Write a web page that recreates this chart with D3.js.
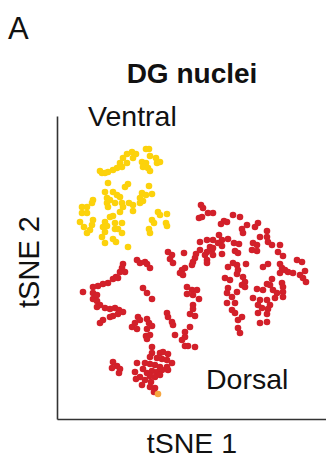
<!DOCTYPE html>
<html>
<head>
<meta charset="utf-8">
<script src="https://cdn.jsdelivr.net/npm/d3@7"></script>
<style>
  body { margin: 0; background: #fff; }
  text { font-family: "Liberation Sans", Arial, Helvetica, sans-serif; fill: #111; }
</style>
</head>
<body>
<div id="chart"></div>
<script>
// tSNE coordinates (figure units, y grows downward)
var ventral = [
  [146,149],[149,149],[132,152],[136,154],[127,154],[123,158],[133,158],[150,156],[156,158],[160,162],
  [157,163],[142,162],[146,163],[143,167],[148,168],[150,171],[120,163],[122,167],[117,168],[113,170],
  [108,172],[100,171],[102,173],[105,173],[127,163],[108,183],[128,184],[125,187],[149,186],[105,192],
  [113,192],[117,195],[120,197],[107,198],[110,200],[142,193],[146,195],[152,194],[140,198],[93,200],
  [92,203],[107,203],[115,203],[122,203],[129,203],[133,205],[140,203],[143,201],[82,207],[87,207],
  [108,207],[123,207],[133,211],[82,213],[87,213],[120,212],[158,212],[160,215],[167,214],[110,217],
  [113,216],[80,222],[93,220],[105,222],[115,223],[122,223],[152,220],[154,223],[166,223],[167,226],
  [84,227],[92,225],[103,227],[107,226],[115,229],[118,229],[90,230],[87,233],[105,232],[122,233],
  [149,229],[150,233],[102,237],[113,239],[116,242],[105,243],[128,247]
];

var dorsal = [
  [201,205],[203,208],[208,213],[213,213],[202,217],[199,218],[233,215],[240,217],[224,221],[221,224],
  [227,222],[247,225],[258,223],[255,227],[242,229],[243,233],[267,231],[219,235],[260,237],[267,237],
  [200,242],[207,240],[213,240],[218,243],[222,240],[228,239],[234,243],[239,244],[253,243],[257,245],
  [268,242],[272,245],[280,245],[210,247],[213,248],[222,246],[200,250],[207,252],[212,250],[235,251],
  [238,253],[252,250],[257,251],[278,252],[283,256],[168,252],[172,255],[184,253],[196,254],[205,255],
  [213,255],[222,254],[170,259],[173,263],[195,258],[193,262],[192,265],[207,260],[207,263],[233,263],
  [237,265],[228,267],[246,264],[268,264],[263,267],[280,264],[282,268],[285,270],[297,260],[302,262],
  [185,268],[182,270],[180,273],[183,275],[238,270],[237,274],[280,273],[288,272],[293,273],[300,275],
  [305,271],[303,278],[306,282],[225,278],[230,280],[243,277],[245,282],[272,279],[267,284],[270,285],
  [282,283],[283,287],[242,285],[245,287],[228,288],[187,287],[192,290],[197,290],[257,289],[263,290],
  [273,290],[277,293],[283,292],[283,297],[187,294],[193,295],[227,293],[237,292],[232,297],[199,299],
  [253,298],[260,300],[267,300],[275,298],[227,303],[235,303],[258,305],[270,305],[193,305],[193,309],
  [190,314],[195,316],[232,310],[235,313],[262,308],[268,309],[258,313],[267,314],[167,313],[168,317],
  [172,322],[173,325],[242,317],[238,320],[260,323],[267,322],[190,327],[185,332],[175,335],[185,337],
  [238,328],[240,333],
  [137,260],[140,263],[145,262],[147,264],[150,268],[123,264],[122,268],[120,272],[125,272],[116,277],
  [118,278],[113,279],[108,283],[103,284],[98,286],[93,287],[83,292],[93,293],[97,295],[93,299],
  [97,301],[100,305],[97,307],[105,308],[110,309],[115,308],[119,310],[123,312],[118,314],[113,316],
  [110,317],[103,320],[100,323],[143,288],[147,293],[152,299],[138,317],[140,320],[135,323],[132,327],
  [137,329],[147,319],[149,323],[152,326],[147,329],[146,336],[150,335],[147,339],[152,347],[152,353],
  [150,357],[160,353],[163,352],[168,354],[157,358],[162,359],[167,360],[172,363],[137,363],[145,363],
  [150,364],[155,365],[160,367],[167,367],[113,362],[117,366],[112,368],[120,369],[119,373],[135,372],
  [143,369],[147,373],[152,371],[157,372],[162,370],[168,370],[140,377],[150,376],[155,377],[160,375],
  [136,379],[145,380],[151,382],[142,385],[150,387],[155,388],[154,392],[182,340],[185,346],[188,346],
  [195,347]
];

var other = [[158,394]];

var groups = [
  {name: 'Ventral', points: ventral, color: '#fcd20c'},
  {name: 'Dorsal', points: dorsal, color: '#d2202a'},
  {name: 'other', points: other, color: '#f6a640'}
];

var width = 326, height = 466;
var margin = {top: 116, right: 0, bottom: 47, left: 57};

var svg = d3.select('#chart').append('svg')
  .attr('width', width)
  .attr('height', height);

var x = d3.scaleLinear()
  .domain([57, 326])
  .range([margin.left, width - margin.right]);
var y = d3.scaleLinear()
  .domain([116, 419])
  .range([margin.top, height - margin.bottom]);

// axes: bare lines, no ticks
svg.append('g')
  .attr('transform', 'translate(0,' + (height - margin.bottom) + ')')
  .call(d3.axisBottom(x).ticks(0).tickSizeOuter(0))
  .call(function(g) { g.select('.domain').attr('stroke', '#333').attr('stroke-width', 1.6); });

svg.append('g')
  .attr('transform', 'translate(' + margin.left + ',0)')
  .call(d3.axisLeft(y).ticks(0).tickSizeOuter(0))
  .call(function(g) { g.select('.domain').attr('stroke', '#333').attr('stroke-width', 1.6); });

// dots
groups.forEach(function(grp) {
  svg.append('g')
    .selectAll('circle')
    .data(grp.points)
    .enter().append('circle')
    .attr('cx', function(d) { return x(d[0]); })
    .attr('cy', function(d) { return y(d[1]); })
    .attr('r', 3.3)
    .attr('fill', grp.color);
});

// labels
svg.append('text').attr('x', 8).attr('y', 39)
  .style('font-size', '31px').text('A');

svg.append('text').attr('x', 192).attr('y', 83)
  .attr('text-anchor', 'middle')
  .style('font-size', '28px').style('font-weight', 'bold')
  .text('DG nuclei');

svg.append('text').attr('x', 88).attr('y', 126)
  .style('font-size', '28.5px').text('Ventral');

svg.append('text').attr('x', 206).attr('y', 389)
  .style('font-size', '28.5px').text('Dorsal');

svg.append('text').attr('x', 192).attr('y', 453)
  .attr('text-anchor', 'middle')
  .style('font-size', '28.5px').text('tSNE 1');

svg.append('text')
  .attr('transform', 'translate(39,262) rotate(-90)')
  .attr('text-anchor', 'middle')
  .style('font-size', '29px').text('tSNE 2');
</script>
</body>
</html>
